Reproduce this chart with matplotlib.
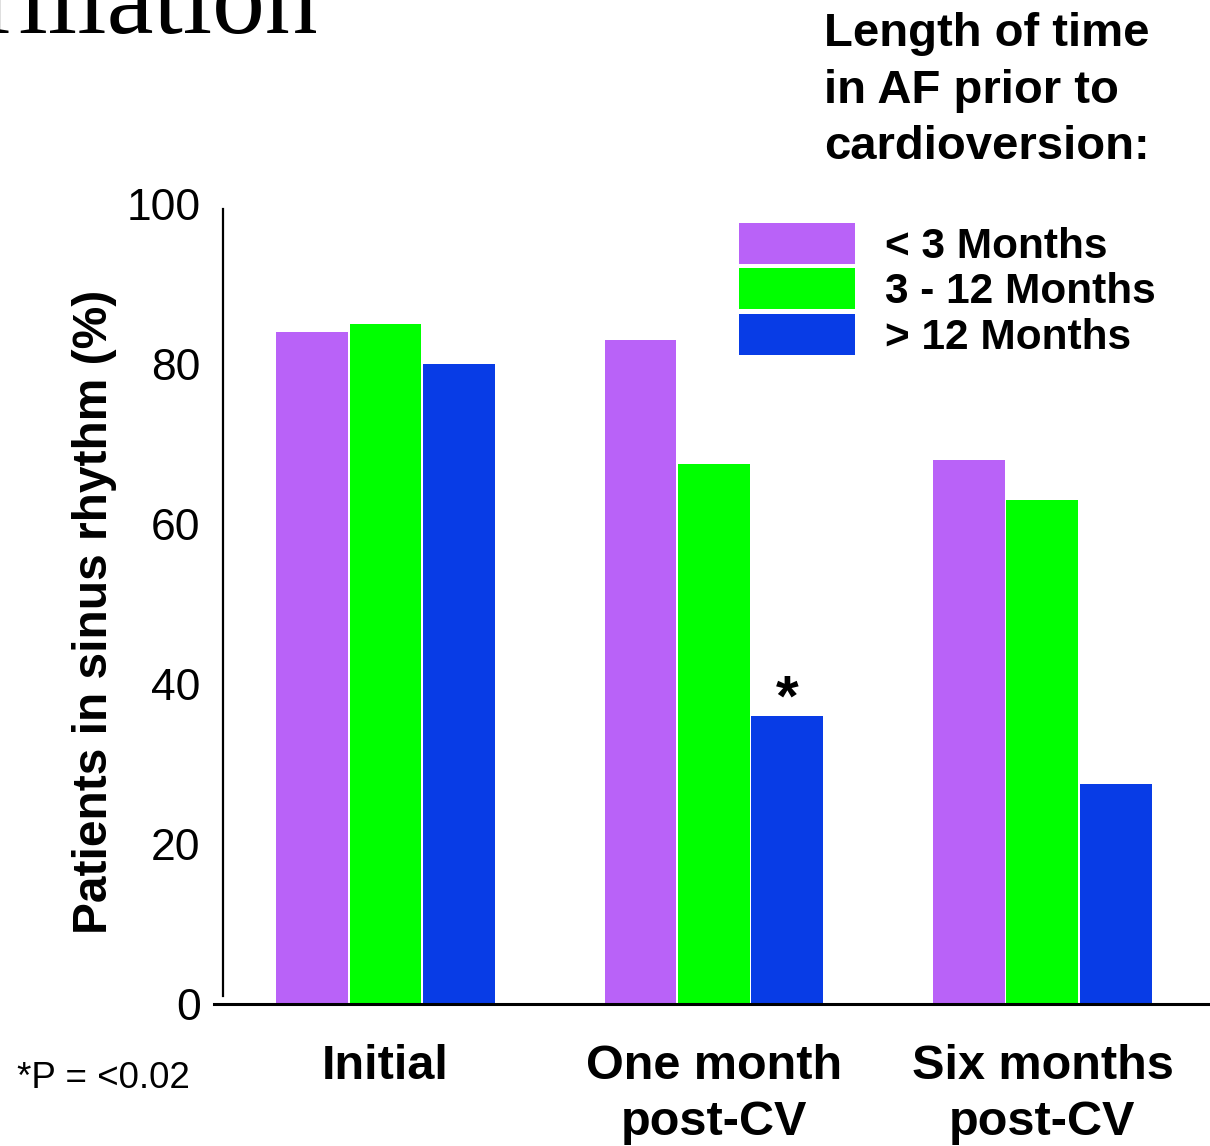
import numpy as np
import matplotlib
matplotlib.use('Agg')
import matplotlib.pyplot as plt

# Patients remaining in sinus rhythm after cardioversion, by time spent in AF
timepoints = ['Initial', 'One month\npost-CV', 'Six months\npost-CV']
durations = ['< 3 Months', '3 - 12 Months', '> 12 Months']
under_3_months = [84, 83, 68]
from_3_to_12_months = [85, 67.5, 63]
over_12_months = [80, 36, 27.5]
colors = ['#B962F8', '#00FF00', '#083CE6']

yticks = [0, 20, 40, 60, 80, 100]
legend_title = 'Length of time\nin AF prior to\ncardioversion:'
footnote = '*P = <0.02'

SANS = ['Liberation Sans', 'DejaVu Sans']


def main():
    plt.rcParams['font.family'] = SANS

    fig = plt.figure(figsize=(12.1, 11.46), dpi=100)
    ax = fig.add_axes([214 / 1210, 142 / 1146, 996 / 1210, 800 / 1146])

    x = np.arange(len(timepoints))
    step = 0.2237
    width = 0.219
    series = [under_3_months, from_3_to_12_months, over_12_months]
    bars = []
    for i, (values, color, label) in enumerate(zip(series, colors, durations)):
        b = ax.bar(x + (i - 1) * step, values, width, color=color,
                   edgecolor='none', label=label)
        bars.append(b)

    # significance marker over the >12 month group at one month
    ax.annotate('*', xy=(x[1] + step, over_12_months[1]), xytext=(0, 0),
                textcoords='offset points', ha='center', va='baseline',
                fontsize=42, fontweight='bold')

    ax.set_xlim(-0.522, 2.51)
    ax.set_ylim(0, 100)

    for side in ['top', 'right']:
        ax.spines[side].set_visible(False)
    ax.spines['left'].set_position(('data', -0.495))
    ax.spines['left'].set_bounds(1, 99.4)
    ax.spines['left'].set_linewidth(1.6)
    ax.spines['bottom'].set_linewidth(2.2)

    ax.set_yticks(yticks)
    ax.set_yticklabels([str(t) for t in yticks], fontsize=32)
    ax.tick_params(axis='y', length=0, pad=16)

    ax.set_xticks(x)
    ax.set_xticklabels(timepoints, fontsize=35, fontweight='bold',
                       linespacing=1.3)
    ax.tick_params(axis='x', length=0, pad=29)

    fig.text(95 / 1210, 1 - 612 / 1146, 'Patients in sinus rhythm (%)',
             rotation=90, ha='center', va='center', fontsize=34.5,
             fontweight='bold')

    ax.legend(handles=bars, loc='upper left',
              bbox_to_anchor=(739 / 1210, 1 - 223 / 1146),
              bbox_transform=fig.transFigure, frameon=False,
              borderpad=0, borderaxespad=0, handlelength=2.74,
              handleheight=1.12, labelspacing=0.03, handletextpad=0.7,
              prop={'size': 30.5, 'weight': 'bold'})

    fig.text(824 / 1210, 1 - 12 / 1146, legend_title, ha='left', va='top',
             fontsize=34, fontweight='bold', linespacing=1.37)

    fig.text(17 / 1210, 1 - 1078 / 1146, footnote, ha='left', va='center',
             fontsize=26.5)

    # slide heading, clipped by the top-left corner
    fig.text(318 / 1210, 1 - 33 / 1146, 'Atrial Fibrillation', ha='right',
             va='baseline', fontsize=76, family=['Liberation Serif', 'DejaVu Serif'])

    fig.savefig('out.png', dpi=100)


if __name__ == '__main__':
    main()
